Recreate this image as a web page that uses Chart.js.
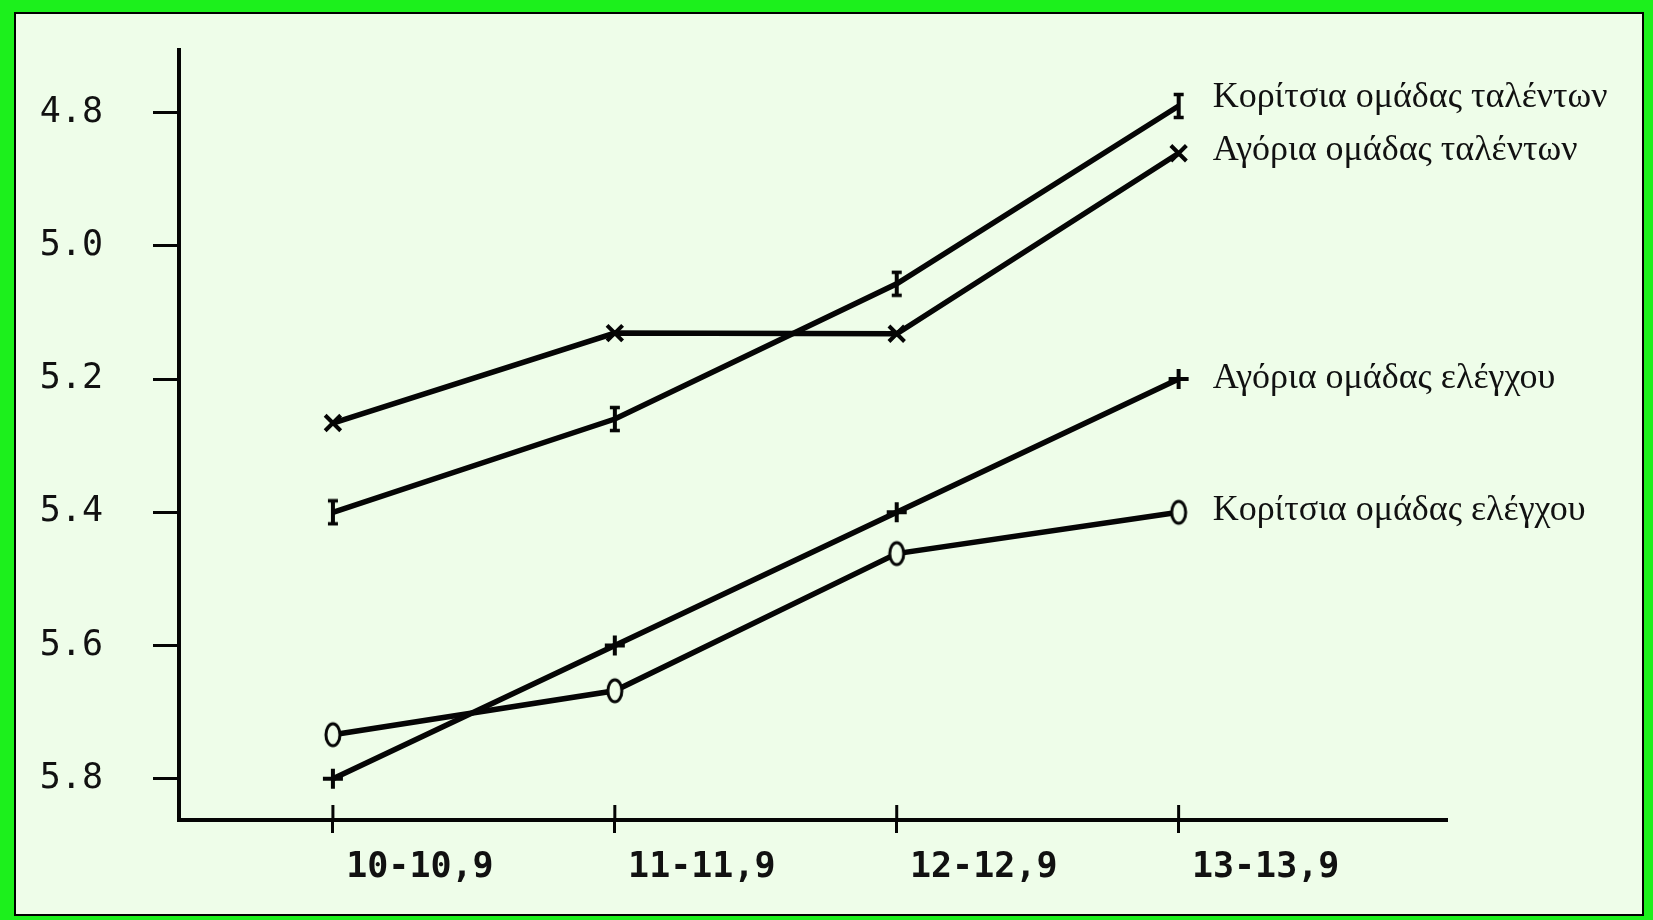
<!DOCTYPE html>
<html><head><meta charset="utf-8">
<script src="https://cdn.jsdelivr.net/npm/chart.js@4"></script>
<style>
html,body{margin:0;padding:0;width:1653px;height:920px;overflow:hidden;background:#1cf01c;}
#panel{position:absolute;left:14px;top:12px;width:1626px;height:900px;border:2px solid #000;background:#eefde9;}
#c{position:absolute;left:0;top:0;}
</style></head><body>
<div id="panel"></div>
<canvas id="c" width="1653" height="920"></canvas>
<script>
// Age groups on the x axis and the reaction-time scale on the y axis
const ageGroups = ['10-10,9', '11-11,9', '12-12,9', '13-13,9'];
const yTickValues = [4.8, 5.0, 5.2, 5.4, 5.6, 5.8];

// Mean values per group
const girlsTalent  = [5.40, 5.26, 5.057, 4.79];
const boysTalent   = [5.266, 5.131, 5.132, 4.861];
const boysControl  = [5.80, 5.60, 5.40, 5.20];
const girlsControl = [5.734, 5.668, 5.462, 5.40];

const seriesNames = [
  'Κορίτσια ομάδας ταλέντων',
  'Αγόρια ομάδας ταλέντων',
  'Αγόρια ομάδας ελέγχου',
  'Κορίτσια ομάδας ελέγχου'
];

const INK = '#050505';
const PAPER = '#eefde9';

// "I" shaped marker
function barMarker() {
  const c = document.createElement('canvas');
  c.width = 14; c.height = 28;
  const g = c.getContext('2d');
  g.strokeStyle = INK; g.lineCap = 'butt';
  g.lineWidth = 4;
  g.beginPath(); g.moveTo(7, 2); g.lineTo(7, 26); g.stroke();
  g.lineWidth = 3.5;
  g.beginPath(); g.moveTo(2, 2.5); g.lineTo(12, 2.5); g.moveTo(2, 25.5); g.lineTo(12, 25.5); g.stroke();
  return c;
}
// Tall open oval marker
function ovalMarker() {
  const c = document.createElement('canvas');
  c.width = 20; c.height = 28;
  const g = c.getContext('2d');
  g.fillStyle = PAPER; g.strokeStyle = INK; g.lineWidth = 3;
  g.beginPath(); g.ellipse(10, 14, 7, 11, 0, 0, Math.PI * 2); g.fill(); g.stroke();
  return c;
}

const toPoints = arr => arr.map((v, i) => ({ x: i, y: v }));

function series(label, values, style, radius) {
  return {
    label, data: toPoints(values),
    borderColor: INK, borderWidth: 5.5, tension: 0,
    pointStyle: style, pointRadius: radius, pointBorderWidth: 4,
    pointBorderColor: INK, pointBackgroundColor: PAPER, fill: false
  };
}

const labelBaselineShift = [1, 7, 9, 8];

const endLabels = {
  id: 'endLabels',
  afterDatasetsDraw(chart) {
    const ctx = chart.ctx;
    ctx.save();
    ctx.font = '36px "Liberation Serif", "DejaVu Serif", serif';
    ctx.fillStyle = '#111';
    ctx.textBaseline = 'alphabetic';
    chart.data.datasets.forEach((ds, i) => {
      const meta = chart.getDatasetMeta(i);
      const pt = meta.data[meta.data.length - 1];
      ctx.fillText(seriesNames[i], pt.x + 34, pt.y + labelBaselineShift[i]);
    });
    ctx.restore();
  }
};

// x tick marks cross the axis: draw the upper halves
const crossTicks = {
  id: 'crossTicks',
  afterDraw(chart) {
    const ctx = chart.ctx, xs = chart.scales.x, b = chart.chartArea.bottom;
    ctx.save();
    ctx.strokeStyle = INK; ctx.lineWidth = 3;
    ageGroups.forEach((_, i) => {
      const x = xs.getPixelForValue(i);
      ctx.beginPath(); ctx.moveTo(x, b - 15); ctx.lineTo(x, b); ctx.stroke();
    });
    ctx.restore();
  }
};

new Chart(document.getElementById('c'), {
  type: 'line',
  data: {
    datasets: [
      series(seriesNames[0], girlsTalent, barMarker(), 10),
      series(seriesNames[1], boysTalent, 'crossRot', 11),
      series(seriesNames[2], boysControl, 'cross', 10),
      series(seriesNames[3], girlsControl, ovalMarker(), 10)
    ]
  },
  options: {
    responsive: false, animation: false, devicePixelRatio: 1,
    layout: { padding: { left: 0, top: 50, right: 206, bottom: 0 } },
    plugins: { legend: { display: false }, tooltip: { enabled: false } },
    scales: {
      x: {
        type: 'linear', min: -0.546, max: 3.952,
        afterBuildTicks: s => { s.ticks = ageGroups.map((_, i) => ({ value: i })); },
        afterFit: s => { s.height = 100; s.paddingLeft = 0; s.paddingRight = 0; },
        border: { display: true, color: INK, width: 4 },
        grid: { drawOnChartArea: false, drawTicks: true, tickLength: 13, tickWidth: 3, tickColor: INK },
        ticks: {
          callback: v => ageGroups[v], color: '#111', padding: 14, labelOffset: 87,
          font: { family: '"DejaVu Sans Mono", monospace', size: 35, weight: 'bold' }, maxRotation: 0
        }
      },
      y: {
        type: 'linear', reverse: true, min: 4.706, max: 5.862,
        afterBuildTicks: s => { s.ticks = yTickValues.map(v => ({ value: v })); },
        afterFit: s => { s.width = 179; s.paddingTop = 0; s.paddingBottom = 0; },
        border: { display: true, color: INK, width: 4 },
        grid: { drawOnChartArea: false, drawTicks: true, tickLength: 26, tickWidth: 3, tickColor: INK },
        ticks: {
          callback: v => v.toFixed(1), color: '#111', padding: 50,
          font: { family: '"DejaVu Sans Mono", monospace', size: 35 }
        }
      }
    }
  },
  plugins: [endLabels, crossTicks]
});
</script>
</body></html>
